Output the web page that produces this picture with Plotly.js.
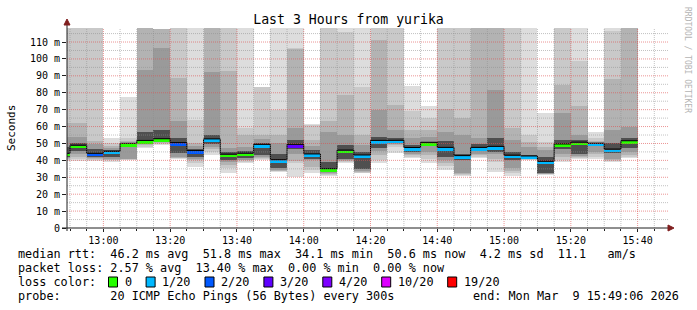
<!DOCTYPE html>
<html><head><meta charset="utf-8">
<script src="https://cdn.plot.ly/plotly-3.0.1.min.js"></script>
<style>html,body{margin:0;padding:0;background:#fff;}#chart{width:697px;height:310px;}</style>
</head><body><div id="chart"></div>
<script>
// ---- data (5-minute bins, labelled by bin end time) ----
const binEnd = ['12:50','12:55','13:00','13:05','13:10','13:15','13:20','13:25','13:30','13:35','13:40','13:45','13:50','13:55',
  '14:00','14:05','14:10','14:15','14:20','14:25','14:30','14:35','14:40','14:45','14:50','14:55',
  '15:00','15:05','15:10','15:15','15:20','15:25','15:30','15:35','15:40'];
// smoke band tops (outer -> inner), ms
const bandHi1 = [120,120,120,53,77.7,120,117.7,120,120,120,120,120,83.4,120,120,61.5,120,120,120,120,120,84.2,72.2,120,120,120,120,120,120,68,120,120,57,120,120];
const bandHi2 = [120,120,120,50,53,120,117.7,120,64,120,120,59,83.4,69.8,106.7,61,120,116,83.6,120,120,69,65,120,120,120,120,120,55,51,120,98.5,53,116.5,120];
const bandHi3 = [62,62,51.5,48.5,51.5,120,117.7,88.6,50.5,120,93,55,55,55,106,52,63,78.7,55,111,72.8,58,58,70.5,65.3,120,120,59,51,48,84.6,72,51.5,88.4,120];
const bandHi4 = [54,54,49.5,47.5,50.5,93.5,106.7,63,48.5,92,47.5,48,52.5,50,59,48.5,57,55,49,70,58,53,54,57,55,53,81.7,52,48,46,68,55,50.5,58,60];
const bandHi5 = [48,50.5,46.5,46,49.6,57,58,53,47,55,44.8,45.5,50.5,43.5,52,46,39,49,45,54,53.5,49,51,51.5,44,49.5,53,45,43,42,52,52,50,50.5,53];
// median rtt, ms
const medianRtt = [43.2,48.0,43.2,44.4,49.1,50.8,51.8,49.5,44.8,51.7,42.7,43.3,48.5,39.4,48.5,42.8,34.1,45.1,42.2,50.8,50.9,46.6,49.7,46.7,41.8,46.7,47.3,42.1,41.6,38.5,48.7,49.8,49.2,45.7,50.6];
// smoke band bottoms (inner -> outer), ms
const bandLo5 = [41.8,45.5,42,42,48.6,50.2,51.2,44.5,42,49.5,40.5,41.5,43,35.5,46.5,41,33,41,35,47.5,50.3,45,48.5,42,40.5,45.5,45,40.5,41.2,32.5,46.5,43.5,48.6,44.5,47.2];
const bandLo4 = [41.3,43.5,41.5,41,41,49.7,50.7,42,41,48,39,40.5,42,34.5,44,40,32.5,40.2,33.5,45.5,49.8,44,45.2,40.5,32.5,44,43.5,35.3,41,32.2,44,42.5,45.1,40.6,45];
const bandLo3 = [40.8,42,41,40.5,40.6,49,50.2,41.6,40,46.5,37.5,40,41.5,34,39.5,36,32,39.8,33,43,49,43,43,38.5,32,43,41,34,40.8,32,42,41.8,43.5,40.2,43];
const bandLo2 = [40.3,41,40.5,40,40.3,48,49.6,41.2,38.5,45,35.5,39.3,41,33.5,38.5,34.3,31.5,39.2,32.7,40.5,48,42,41,36.5,31.5,42.2,39,32.5,40.5,31.7,40.5,41.3,42.2,39.7,42];
const bandLo1 = [39.8,39.8,39.7,39.2,40,47.2,49,40.8,36.3,43.2,32.5,38.6,40.5,33,30.4,32.3,31,38.5,32.4,38.5,44.5,41.2,38.5,34.2,30.5,41.3,33.2,30.8,40.2,31.4,39.2,40.8,41,39.2,41.2];
// lost pings out of 20 per bin
const lossCount = [0,0,2,1,0,0,0,2,2,1,0,0,1,1,3,1,0,0,1,1,1,1,0,1,1,1,1,1,1,1,0,0,1,1,0];
const lossKeys = [0,1,2,3,4,10,19];
const lossLabels = ['0','1/20','2/20','3/20','4/20','10/20','19/20'];
const lossColors = ['#26ff00','#00b8ff','#0059ff','#5e00ff','#7e00ff','#dd00ff','#ff0000'];
const xTickLabels = ['13:00','13:20','13:40','14:00','14:20','14:40','15:00','15:20','15:40'];
const yTickValues = [0,10,20,30,40,50,60,70,80,90,100,110];
const yTickLabels = ['0','10 m','20 m','30 m','40 m','50 m','60 m','70 m','80 m','90 m','100 m','110 m'];
const titleText = 'Last 3 Hours from yurika';
const statLine1 = 'median rtt:  46.2 ms avg  51.8 ms max  34.1 ms min  50.6 ms now  4.2 ms sd  11.1   am/s';
const statLine2 = 'packet loss: 2.57 % avg  13.40 % max  0.00 % min  0.00 % now';
const probeLine = 'probe:       20 ICMP Echo Pings (56 Bytes) every 300s';
const endLine = 'end: Mon Mar  9 15:49:06 2026';
const windowStart = '12:49:06', windowEnd = '15:49:06';

// ---- helpers ----
const STEP = 5;
const toMin = s => { const p = s.split(':').map(Number); return p[0]*60 + p[1] + (p[2]||0)/60; };
const ends = binEnd.map(toMin);
const centers = ends.map(e => e - STEP/2);
const FONT = 'DejaVu Sans Mono';
const L = 67, T = 28, PW = 601, PH = 200;
const px = x => (x - L) / PW;
const py = y => (T + PH - y) / PH;
const nb = s => s.replace(/ /g, '\u00a0');

const bandColors = ['#dddddd','#c9c9c9','#b3b3b3','#9a9a9a','#4f4f4f'];
const his = [bandHi1, bandHi2, bandHi3, bandHi4, bandHi5];
const los = [bandLo1, bandLo2, bandLo3, bandLo4, bandLo5];

const traces = [];
for (let k = 0; k < 5; k++) {
  traces.push({type:'bar', x:centers, base:los[k], y:his[k].map((h,i)=>h-los[k][i]), width:STEP,
    marker:{color:bandColors[k], line:{width:0}}, hoverinfo:'skip', showlegend:false});
}
// coloured median bars by loss
lossKeys.forEach((key, li) => {
  const nextKey = li+1 < lossKeys.length ? lossKeys[li+1] : 99;
  const idx = lossCount.map((c,i)=> (c>=key && c<nextKey) ? i : -1).filter(i=>i>=0);
  if (!idx.length) return;
  traces.push({type:'bar', x:idx.map(i=>centers[i]), base:idx.map(i=>medianRtt[i]-0.9), y:idx.map(()=>1.6), width:STEP,
    marker:{color:lossColors[li], line:{width:0}}, hoverinfo:'skip', showlegend:false});
});
// median step line (sits on top edge of the coloured bar)
const sx = [], sy = [];
ends.forEach((e,i)=>{ sx.push(e-STEP, e); sy.push(medianRtt[i]+1.0, medianRtt[i]+1.0); });
traces.push({type:'scatter', mode:'lines', x:sx, y:sy, line:{color:'#000', width:1}, hoverinfo:'skip', showlegend:false});

// ---- grid (drawn above the smoke, like rrdtool) ----
const shapes = [];
const x0 = toMin(windowStart), x1 = toMin(windowEnd);
for (let t = Math.ceil(x0/5)*5; t <= x1; t += 5) {
  const major = t % 20 === 0;
  shapes.push({type:'line', xref:'x', yref:'paper', x0:t, x1:t, y0:0, y1:1, layer:'above',
    line:{color: major ? 'rgba(222,79,79,0.6)' : 'rgba(143,143,143,0.55)', width:1, dash:'1px,1px'}});
}
for (let v = 5; v <= 115; v += 5) {
  const major = v % 10 === 0;
  shapes.push({type:'line', xref:'paper', yref:'y', x0:0, x1:1, y0:v, y1:v, layer:'above',
    line:{color: major ? 'rgba(222,79,79,0.6)' : 'rgba(143,143,143,0.55)', width:1, dash:'1px,1px'}});
}
// axes and arrows
shapes.push({type:'line', xref:'paper', yref:'paper', x0:px(67), x1:px(67), y0:py(231), y1:py(24), layer:'above', line:{color:'#1f1f1f', width:1}});
shapes.push({type:'line', xref:'paper', yref:'paper', x0:px(62), x1:px(669), y0:py(228), y1:py(228), layer:'above', line:{color:'#1f1f1f', width:1}});
shapes.push({type:'path', xref:'paper', yref:'paper', layer:'above', fillcolor:'#801f1f', line:{color:'#801f1f', width:1},
  path:`M ${px(64)} ${py(25)} L ${px(70)} ${py(25)} L ${px(67)} ${py(19)} Z`});
shapes.push({type:'path', xref:'paper', yref:'paper', layer:'above', fillcolor:'#801f1f', line:{color:'#801f1f', width:1},
  path:`M ${px(668)} ${py(225)} L ${px(668)} ${py(231)} L ${px(674)} ${py(228)} Z`});

// ---- texts ----
const ann = [];
const txt = (x, y, s, opt={}) => ann.push(Object.assign({xref:'paper', yref:'paper', x:px(x), y:py(y), text:nb(s), showarrow:false,
  xanchor:'left', yanchor:'middle', font:{family:FONT, size:11.8, color:'#000'}}, opt));
txt(16, 254, statLine1);
txt(16, 268, statLine2);
txt(16, 282, 'loss color:');
txt(16, 296, probeLine);
txt(681, 296, endLine, {xanchor:'right'});
txt(11, 128, 'Seconds', {xanchor:'center', textangle:-90, font:{family:FONT, size:11, color:'#000'}});
txt(688, 60, 'RRDTOOL / TOBI OETIKER', {xanchor:'center', textangle:90, font:{family:FONT, size:8, color:'#b4b4b4'}});
let bx = 108.5;
lossLabels.forEach((lab, i) => {
  shapes.push({type:'rect', xref:'paper', yref:'paper', x0:px(bx), x1:px(bx+9), y0:py(287), y1:py(277),
    fillcolor:lossColors[i], line:{color:'#000', width:1}, layer:'above'});
  txt(bx+14, 282, lab);
  bx = bx + 14 + lab.length*7.1 + 16.5;
});

const layout = {
  width:697, height:310, margin:{l:L, r:697-L-PW, t:T, b:310-T-PH},
  paper_bgcolor:'#ffffff', plot_bgcolor:'#ffffff',
  barmode:'overlay', bargap:0, showlegend:false,
  title:{text:titleText, x:0.5, xref:'container', xanchor:'center', y:1-19/310, yref:'container', yanchor:'middle',
    font:{family:FONT, size:13.2, color:'#000'}},
  xaxis:{range:[x0, x1], tickmode:'array', tickvals:xTickLabels.map(toMin), ticktext:xTickLabels,
    showgrid:false, zeroline:false, showline:false, ticks:'outside', ticklen:3, tickcolor:'#1f1f1f',
    minor:{tickmode:'linear', tick0:770, dtick:5, ticks:'outside', ticklen:2, tickcolor:'#1f1f1f', showgrid:false},
    tickfont:{family:FONT, size:10, color:'#000'}, fixedrange:true},
  yaxis:{range:[0, 118.3], tickmode:'array', tickvals:yTickValues, ticktext:yTickLabels,
    showgrid:false, zeroline:false, showline:false, ticks:'outside', ticklen:4, tickcolor:'#1f1f1f',
    tickfont:{family:FONT, size:10, color:'#000'}, fixedrange:true},
  shapes:shapes, annotations:ann
};
Plotly.newPlot('chart', traces, layout, {staticPlot:true, displayModeBar:false});
</script></body></html>
